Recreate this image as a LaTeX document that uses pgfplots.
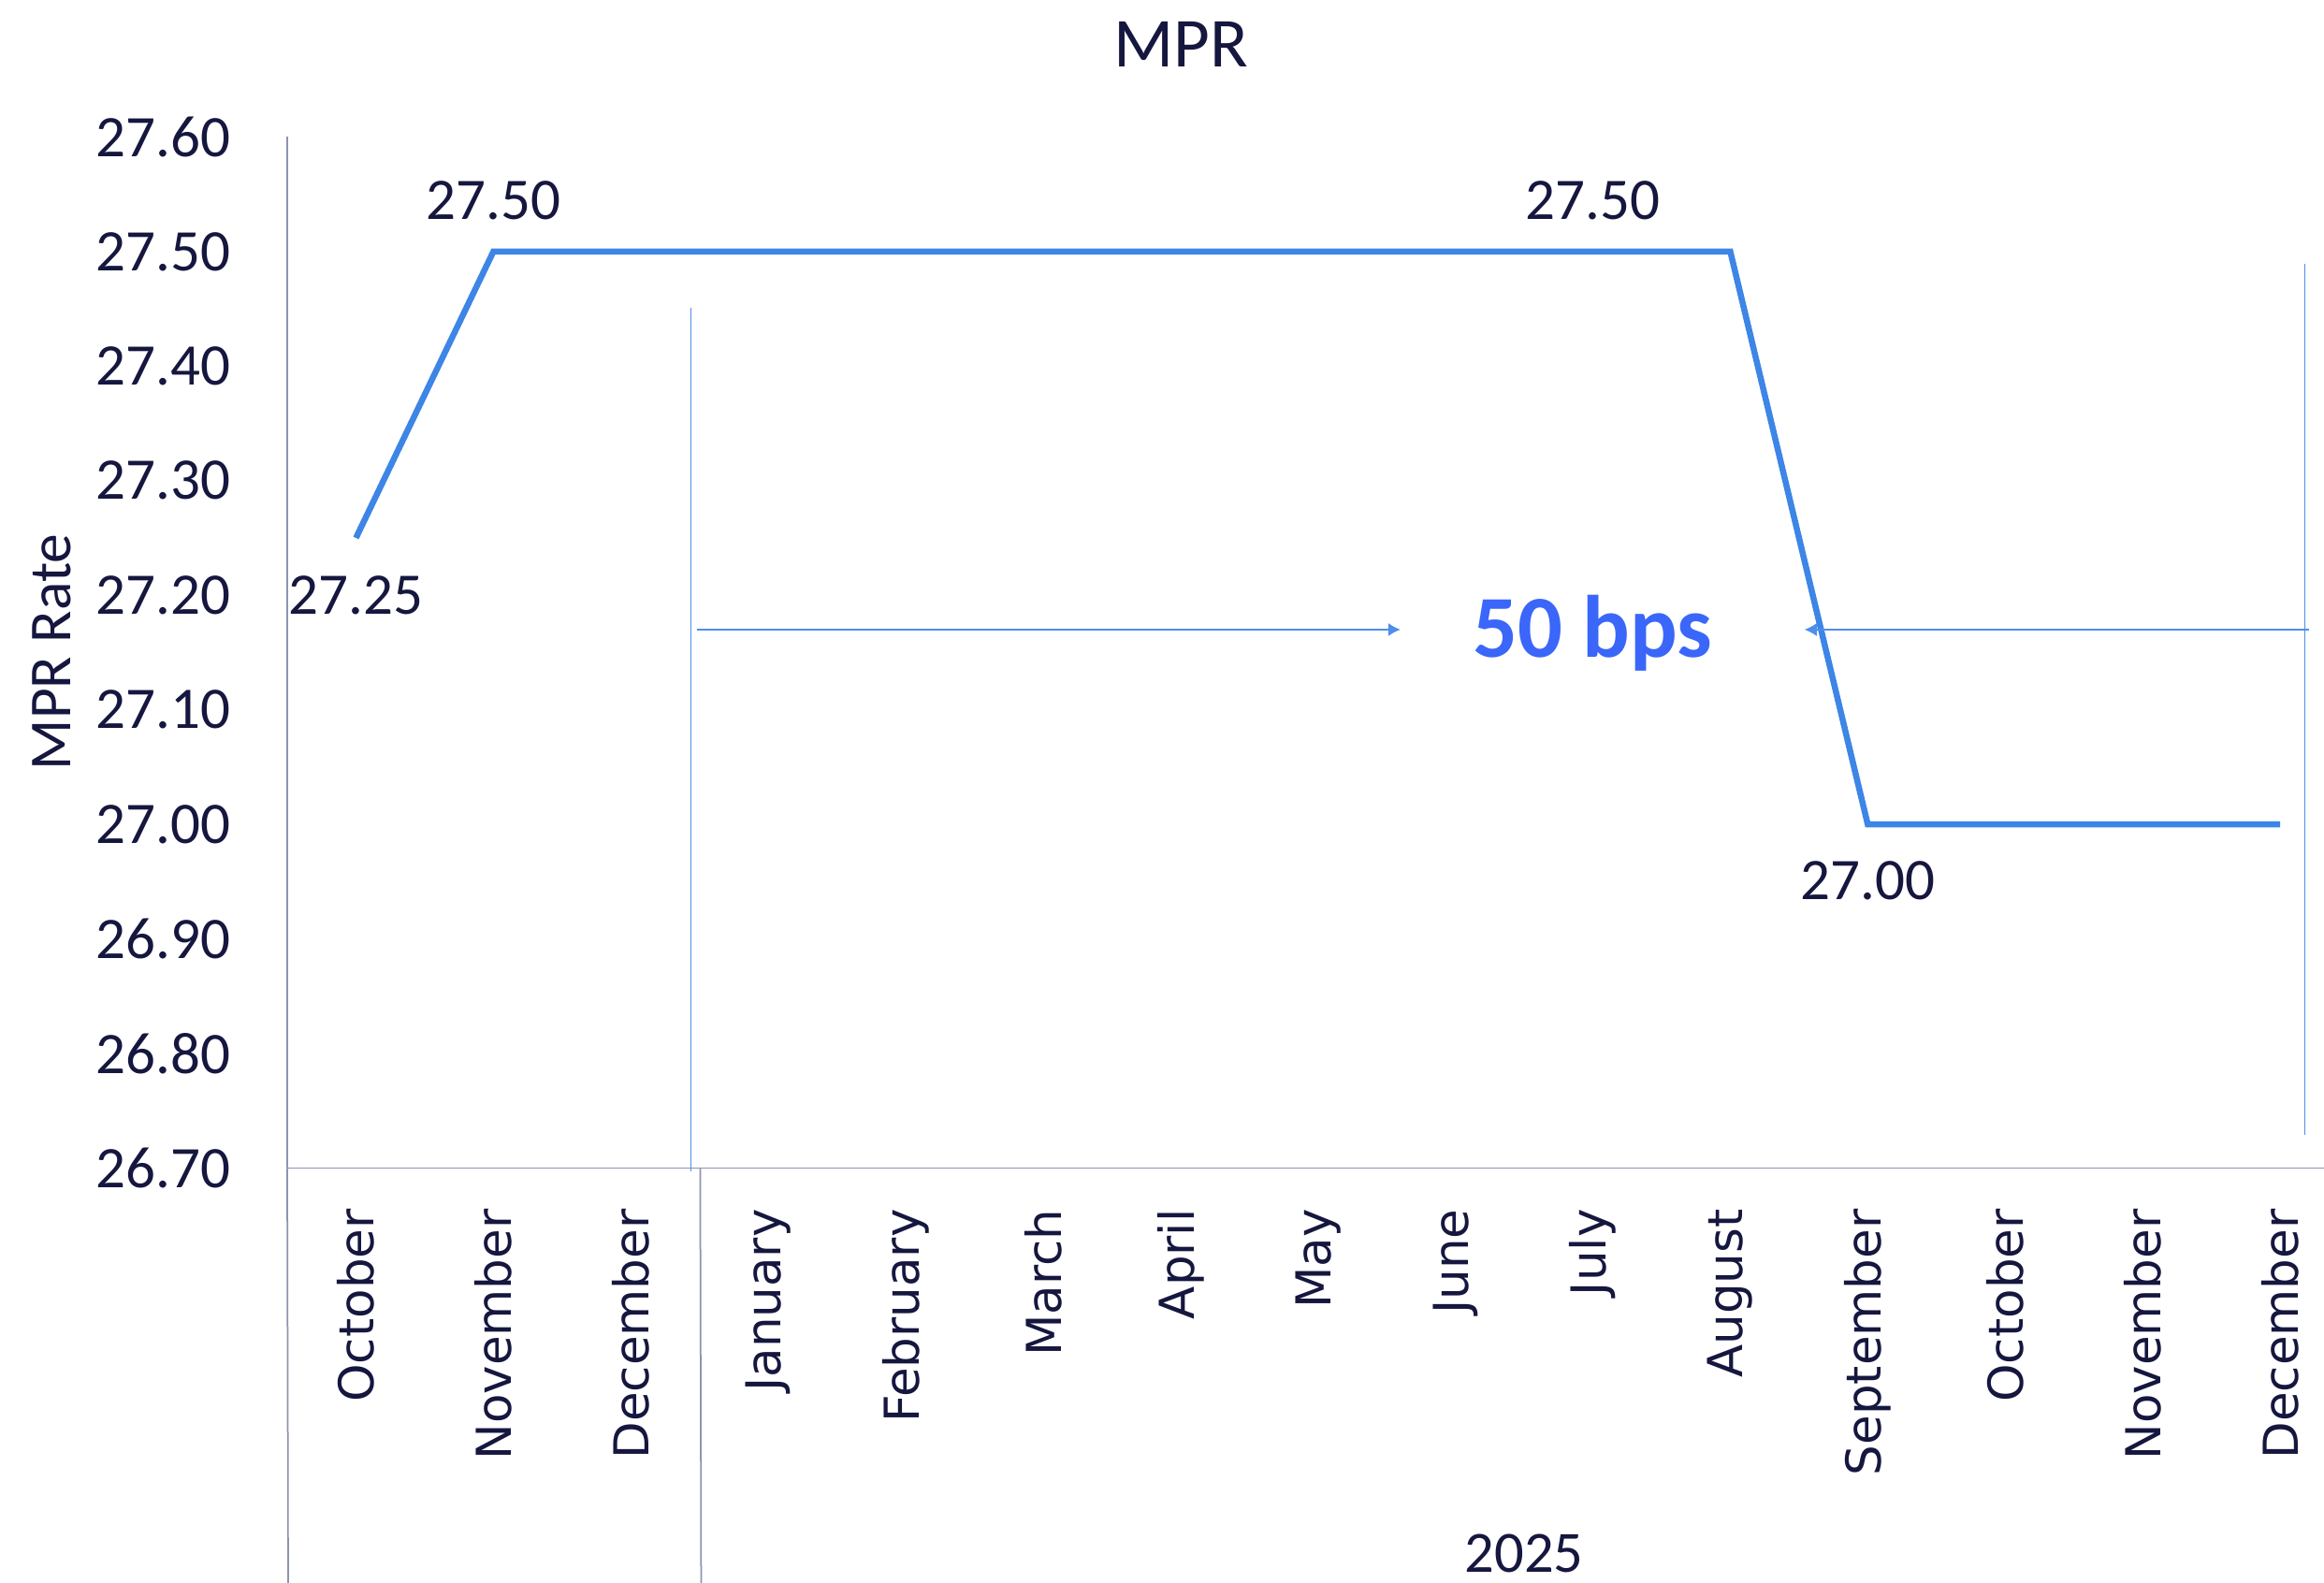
\documentclass[border=0pt]{standalone}
\usepackage{pgfplots}
\pgfplotsset{compat=1.18}
\usepackage{fontspec}
\setmainfont{Carlito}
\newfontfamily\monthfont{DejaVu Sans}
\usetikzlibrary{arrows.meta}

\definecolor{txt}{HTML}{15173F}
\definecolor{axc}{HTML}{8C94AE}
\definecolor{mpr}{HTML}{3D85E6}
\definecolor{bps}{HTML}{3A66FA}
\definecolor{annblue}{HTML}{4D8FEA}

\begin{document}
\begin{tikzpicture}
\useasboundingbox (0,0) rectangle (496.8pt,338.2pt);
\begin{axis}[
    at={(61.4pt,88.6pt)}, anchor=south west,
    scale only axis,
    width=435.4pt, height=220.4pt,
    xmin=-0.5, xmax=14.32,
    ymin=26.7, ymax=27.6,
    axis x line*=bottom, axis y line*=left,
    axis line style={axc, line width=0.35pt, -},
    major tick length=0pt,
    xtick={0,...,14},
    xticklabels={October,November,December,January,February,March,April,May,June,July,August,September,October,November,December},
    xticklabel style={rotate=90, anchor=east, inner sep=0pt,
        font=\monthfont\fontsize{10.3}{12}\selectfont, text=txt},
    xticklabel shift=8.6pt,
    ytick={26.7,26.8,26.9,27.0,27.1,27.2,27.3,27.4,27.5,27.6},
    yticklabel style={inner sep=0pt, font=\fontsize{12.6}{15}\selectfont, text=txt,
        /pgf/number format/fixed, /pgf/number format/fixed zerofill,
        /pgf/number format/precision=2},
    yticklabel shift=12pt,
    /pgf/number format/assume math mode=true,
    clip=false,
]

% policy rate path
\addplot[mpr, line width=1.3pt] coordinates {
(0,27.25)
(1,27.50)
(2,27.50)
(3,27.50)
(4,27.50)
(5,27.50)
(6,27.50)
(7,27.50)
(8,27.50)
(9,27.50)
(10,27.50)
(11,27.00)
(12,27.00)
(13,27.00)
(14,27.00)
};

% 50 bps annotation
\draw[annblue, line width=0.3pt] (axis cs:2.437,27.451) -- (axis cs:2.437,26.697);
\draw[annblue, line width=0.3pt] (axis cs:14.18,27.489) -- (axis cs:14.18,26.729);
\draw[annblue, line width=0.3pt, -{Latex[length=2.6pt,width=2.8pt]}] (axis cs:2.48,27.17) -- (axis cs:7.6,27.17);
\draw[annblue, line width=0.3pt, -{Latex[length=2.6pt,width=2.8pt]}] (axis cs:14.21,27.17) -- (axis cs:10.54,27.17);
\node[text=bps, font=\bfseries\fontsize{18.9}{22}\selectfont] at (axis cs:9.0,27.167) {50 bps};

% data labels
\node[text=txt, font=\fontsize{12.6}{15}\selectfont] at (axis cs:0,27.25) [yshift=-12.2pt] {27.25};
\node[text=txt, font=\fontsize{12.6}{15}\selectfont] at (axis cs:1,27.5) [yshift=11pt] {27.50};
\node[text=txt, font=\fontsize{12.6}{15}\selectfont] at (axis cs:9,27.5) [yshift=11pt] {27.50};
\node[text=txt, font=\fontsize{12.6}{15}\selectfont] at (axis cs:11,27.0) [yshift=-12pt] {27.00};

% category group lines
\draw[axc, line width=0.35pt] (axis cs:-0.5,26.7) -- ++(0,-88.6pt);
\draw[axc, line width=0.35pt] (axis cs:2.505,26.7) -- ++(0,-88.6pt);
\node[text=txt, font=\fontsize{12.5}{15}\selectfont] at (axis cs:8.5,26.7) [yshift=-82.4pt] {2025};
\end{axis}

\node[text=txt, font=\fontsize{15}{18}\selectfont] at (252.5pt,328.7pt) {MPR};
\node[text=txt, font=\fontsize{12.7}{15}\selectfont, rotate=90] at (11pt,198.8pt) {MPR Rate};
\end{tikzpicture}
\end{document}
